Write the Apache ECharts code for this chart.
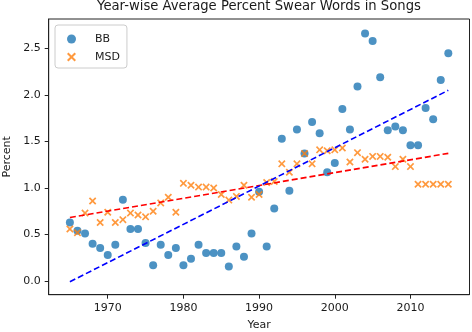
<!DOCTYPE html>
<html>
<head>
<meta charset="utf-8">
<script src="https://cdn.jsdelivr.net/npm/echarts@6/dist/echarts.min.js"></script>
<style>
html, body { margin: 0; padding: 0; background: #fff; }
#chart { width: 472px; height: 332px; }
</style>
</head>
<body>
<div id="chart"></div>
<script>
var years = [1965, 1966, 1967, 1968, 1969, 1970, 1971, 1972, 1973, 1974,
	1975, 1976, 1977, 1978, 1979, 1980, 1981, 1982, 1983, 1984,
	1985, 1986, 1987, 1988, 1989, 1990, 1991, 1992, 1993, 1994,
	1995, 1996, 1997, 1998, 1999, 2000, 2001, 2002, 2003, 2004,
	2005, 2006, 2007, 2008, 2009, 2010, 2011, 2012, 2013, 2014, 2015];
var bbValues = [0.63, 0.54, 0.51, 0.40, 0.355, 0.28, 0.39, 0.875, 0.56, 0.56,
	0.41, 0.17, 0.39, 0.28, 0.355, 0.17, 0.24, 0.39, 0.30, 0.30,
	0.30, 0.155, 0.37, 0.26, 0.51, 0.96, 0.37, 0.78, 1.53, 0.97,
	1.63, 1.37, 1.71, 1.59, 1.17, 1.27, 1.85, 1.63, 2.09, 2.66,
	2.58, 2.19, 1.62, 1.66, 1.62, 1.46, 1.46, 1.86, 1.74, 2.16, 2.45];
var msdValues = [0.56, 0.52, 0.73, 0.86, 0.63, 0.74, 0.63, 0.66, 0.73, 0.71,
	0.69, 0.75, 0.84, 0.90, 0.74, 1.05, 1.03, 1.01, 1.01, 1.00,
	0.93, 0.87, 0.91, 1.03, 0.90, 0.93, 1.06, 1.07, 1.26, 1.17,
	1.26, 1.37, 1.26, 1.41, 1.40, 1.41, 1.43, 1.28, 1.38, 1.31,
	1.34, 1.34, 1.33, 1.23, 1.31, 1.23, 1.04, 1.04, 1.04, 1.04, 1.04];
var xTicks = [1970, 1980, 1990, 2000, 2010];
var yTicks = [0, 0.5, 1, 1.5, 2, 2.5];

var FONT = 'DejaVu Sans';
var crossIcon = 'path://M0,1.6L1.6,0L5,3.4L8.4,0L10,1.6L6.6,5L10,8.4L8.4,10L5,6.6L1.6,10L0,8.4L3.4,5Z';

function pairs(xs, ys) {
	var out = [];
	for(var i = 0; i < xs.length; i++) {
		out.push([xs[i], ys[i]]);
	}
	return out;
}

// least squares fit, drawn from first to last year
function trend(xs, ys) {
	var n = xs.length, sx = 0, sy = 0, sxx = 0, sxy = 0;
	for(var i = 0; i < n; i++) {
		sx += xs[i]; sy += ys[i];
		sxx += xs[i] * xs[i]; sxy += xs[i] * ys[i];
	}
	var b = (n * sxy - sx * sy) / (n * sxx - sx * sx);
	var a = (sy - b * sx) / n;
	var x0 = xs[0], x1 = xs[n - 1];
	return [[x0, a + b * x0], [x1, a + b * x1]];
}

var chart = echarts.init(document.getElementById('chart'), null, {renderer: 'canvas'});
var option = {
	animation: false,
	textStyle: { fontFamily: FONT },
	title: {
		text: 'Year-wise Average Percent Swear Words in Songs',
		left: 259,
		textAlign: 'center',
		top: 0,
		padding: 0,
		textStyle: { fontFamily: FONT, fontSize: 13.2, fontWeight: 'normal', color: '#1a1a1a' }
	},
	legend: {
		data: ['BB', 'MSD'],
		orient: 'vertical',
		left: 55,
		top: 25,
		padding: [8, 7, 5, 12],
		itemWidth: 9,
		itemHeight: 9,
		itemGap: 6,
		backgroundColor: 'rgba(255,255,255,0.8)',
		borderColor: '#cccccc',
		borderWidth: 1,
		borderRadius: 3,
		textStyle: { fontFamily: FONT, fontSize: 11, color: '#1a1a1a', lineHeight: 12, padding: [0, 0, 0, 14] }
	},
	grid: {
		left: 48.7, right: 2.5, top: 19, bottom: 37.3,
		outerBoundsMode: 'none',
		containLabel: false,
		show: true, borderColor: '#222', borderWidth: 1, backgroundColor: '#fff'
	},
	xAxis: {
		type: 'value',
		min: 1962.2,
		max: 2017.8,
		name: 'Year',
		nameLocation: 'middle',
		nameGap: 25,
		nameTextStyle: { fontFamily: FONT, fontSize: 11, color: '#1a1a1a' },
		axisLine: { show: true, onZero: false, lineStyle: { color: '#222' } },
		axisTick: { show: true, length: 4, customValues: xTicks, lineStyle: { color: '#222' } },
		axisLabel: {
			customValues: xTicks, margin: 8, fontSize: 11, color: '#1a1a1a',
			formatter: function(v) { return String(v); }
		},
		splitLine: { show: false }
	},
	yAxis: {
		type: 'value',
		min: -0.147,
		max: 2.817,
		name: 'Percent',
		nameLocation: 'middle',
		nameGap: 36,
		nameTextStyle: { fontFamily: FONT, fontSize: 11, color: '#1a1a1a' },
		axisLine: { show: true, onZero: false, lineStyle: { color: '#222' } },
		axisTick: { show: true, length: 4, customValues: yTicks, lineStyle: { color: '#222' } },
		axisLabel: {
			customValues: yTicks, margin: 8, fontSize: 11, color: '#1a1a1a',
			formatter: function(v) { return v.toFixed(1); }
		},
		splitLine: { show: false }
	},
	series: [{
		name: 'BB',
		type: 'scatter',
		symbol: 'circle',
		symbolSize: 8,
		itemStyle: { color: '#1f77b4' },
		data: pairs(years, bbValues),
		z: 2
	}, {
		name: 'MSD',
		type: 'scatter',
		symbol: crossIcon,
		symbolSize: 7.5,
		itemStyle: { color: '#ff7f0e' },
		data: pairs(years, msdValues),
		z: 3
	}, {
		name: 'MSD trend',
		type: 'line',
		showSymbol: false,
		silent: true,
		data: trend(years, msdValues),
		lineStyle: { color: '#ff0000', width: 1.6, type: [6, 3] },
		z: 4
	}, {
		name: 'BB trend',
		type: 'line',
		showSymbol: false,
		silent: true,
		data: trend(years, bbValues),
		lineStyle: { color: '#0000ff', width: 1.6, type: [6, 3] },
		z: 4
	}]
};
chart.setOption(option);
</script>
</body>
</html>
